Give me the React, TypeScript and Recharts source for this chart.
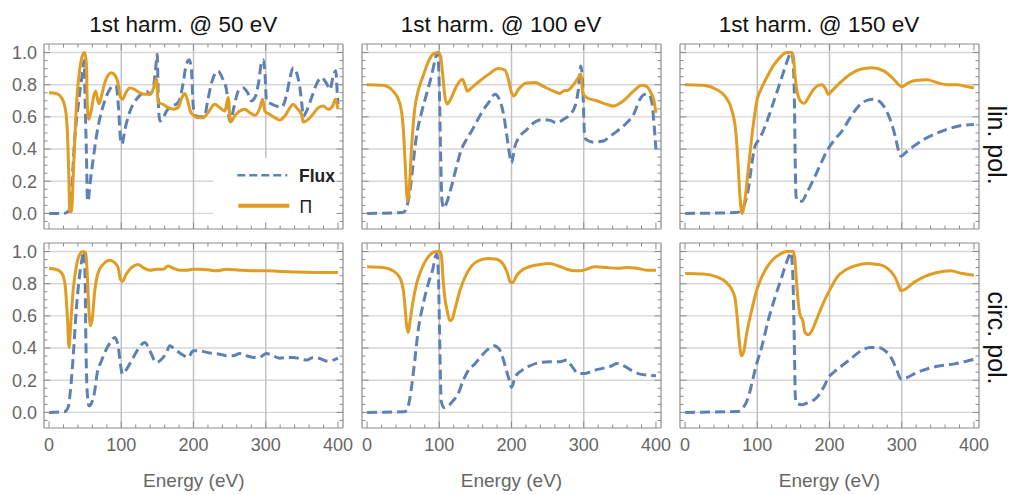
import { LineChart, Line, XAxis, YAxis, CartesianGrid, ReferenceArea } from 'recharts'

type Pt = [number, number]

// linear polarisation, 1st harmonic @ 50 eV
const lin50Flux: Pt[] = [
  [0, 0], [20, 0], [26, 0.01], [29, 0.03], [31, 0.12], [33, 0.28], [35.5, 0.46], [40, 0.66], [44, 0.8],
  [47, 0.9], [48.5, 0.95], [50, 0.67], [51.8, 0.36], [53, 0.1], [54, 0.075], [56.4, 0.17], [61, 0.335],
  [65.6, 0.48], [70, 0.585], [74.8, 0.667], [79.5, 0.73], [84, 0.77], [88.7, 0.795], [93, 0.79], [96, 0.67],
  [99, 0.46], [100.8, 0.43], [105, 0.52], [109.5, 0.6], [116.5, 0.68], [123, 0.72], [130, 0.75], [135, 0.76],
  [139.5, 0.74], [144, 0.77], [148, 0.92], [149.7, 0.99], [151.5, 0.67], [153.4, 0.575], [158, 0.595],
  [162.6, 0.636], [169.5, 0.667], [176.5, 0.68], [181, 0.71], [185.7, 0.81], [190, 0.925], [194, 0.955],
  [197, 0.9], [199.6, 0.67], [202, 0.61], [208, 0.6], [215, 0.6], [220, 0.71], [227, 0.84], [234, 0.885],
  [240, 0.84], [246, 0.76], [249, 0.6], [251, 0.57], [256, 0.66], [262, 0.76], [269, 0.78], [275, 0.75],
  [280, 0.7], [285, 0.72], [290, 0.81], [294, 0.935], [296.5, 0.955], [299, 0.87], [301, 0.7], [308, 0.68],
  [315, 0.667], [322, 0.66], [329, 0.74], [333.5, 0.84], [338, 0.905], [342.7, 0.875], [347, 0.79],
  [350, 0.68], [352, 0.605], [356.6, 0.636], [363.5, 0.72], [370, 0.8], [377, 0.844], [384, 0.81],
  [389, 0.77], [393.5, 0.855], [397, 0.886], [399, 0.75], [400, 0.68],
]
const lin50Pi: Pt[] = [
  [0, 0.75], [10, 0.745], [17, 0.72], [21.8, 0.667], [25, 0.54], [27.3, 0.25], [28.7, 0.01], [31, 0.01],
  [33.3, 0.21], [35.6, 0.46], [38.8, 0.73], [42.5, 0.895], [47, 0.99], [49.4, 1.0], [51.8, 0.92], [53, 0.67],
  [55, 0.585], [58.7, 0.647], [62.4, 0.74], [64.7, 0.76], [66.6, 0.72], [69.3, 0.68], [72.6, 0.73], [77, 0.81],
  [81.8, 0.86], [86.4, 0.875], [91, 0.86], [95.6, 0.81], [99, 0.72], [101.7, 0.71], [106.3, 0.75],
  [111.8, 0.78], [118.7, 0.77], [125.7, 0.75], [132.6, 0.74], [139.5, 0.74], [145.5, 0.79], [148.8, 0.835],
  [151, 0.69], [158, 0.678], [165, 0.657], [172, 0.647], [179, 0.66], [184, 0.72], [188, 0.745], [192, 0.7],
  [196, 0.63], [200, 0.61], [206.5, 0.595], [213.4, 0.595], [220, 0.626], [229.5, 0.678], [236.5, 0.657],
  [243.4, 0.636], [248, 0.72], [251.3, 0.568], [257, 0.605], [264, 0.636], [271, 0.647], [278, 0.626],
  [285, 0.61], [292, 0.657], [295.6, 0.71], [298.8, 0.636], [305.8, 0.615], [312.7, 0.595], [319.6, 0.58],
  [326.5, 0.605], [333.5, 0.657], [338, 0.678], [342.7, 0.657], [349.6, 0.615], [352, 0.568], [359, 0.584],
  [366, 0.62], [372.7, 0.657], [379.7, 0.667], [386.6, 0.647], [392.6, 0.667], [396.7, 0.71], [400, 0.647],
]

// linear polarisation, 1st harmonic @ 100 eV
const lin100Flux: Pt[] = [
  [0, 0], [50, 0.005], [54.5, 0.035], [59, 0.127], [63.8, 0.31], [68.4, 0.48], [75.4, 0.626], [82.3, 0.74],
  [89.2, 0.855], [93.9, 0.948], [97.5, 1.0], [99.9, 0.81], [101.7, 0.4], [103.6, 0.085], [106.3, 0.033],
  [110, 0.064], [117, 0.17], [124, 0.293], [130.8, 0.4], [137.8, 0.46], [147, 0.53], [158.6, 0.626],
  [170, 0.7], [177, 0.74], [183, 0.71], [188.6, 0.626], [193, 0.5], [197, 0.376], [200, 0.314],
  [204.8, 0.418], [211.7, 0.48], [221, 0.52], [230, 0.56], [239.5, 0.58], [251, 0.58], [262.6, 0.563],
  [271.8, 0.584], [281, 0.615], [288, 0.667], [292.6, 0.77], [296, 0.917], [298.7, 0.79], [301, 0.5],
  [303, 0.46], [313.5, 0.443], [327, 0.45], [336.6, 0.48], [345.8, 0.51], [359.7, 0.563], [369, 0.615],
  [378, 0.71], [385, 0.74], [389.7, 0.74], [394.4, 0.69], [397.6, 0.54], [400, 0.4],
]
const lin100Pi: Pt[] = [
  [0, 0.8], [22, 0.796], [36, 0.76], [45, 0.69], [50, 0.54], [53, 0.29], [56, 0.075], [58, 0.127],
  [61.5, 0.4], [66, 0.65], [70.7, 0.76], [77.7, 0.855], [84.6, 0.94], [91.5, 0.99], [98.5, 1.0],
  [101.7, 0.98], [104.5, 0.875], [107.7, 0.73], [111, 0.68], [114.7, 0.7], [121.6, 0.77], [128.5, 0.823],
  [132, 0.834], [135.5, 0.8], [138.7, 0.76], [144.7, 0.78], [156, 0.823], [170, 0.87], [181.7, 0.9],
  [191, 0.89], [195.6, 0.834], [200, 0.75], [203.4, 0.73], [209.4, 0.77], [221, 0.81], [232.5, 0.813],
  [244, 0.79], [258, 0.76], [267, 0.746], [271.8, 0.76], [278.8, 0.767], [285.7, 0.8], [292.6, 0.844],
  [296, 0.865], [298.7, 0.75], [304, 0.72], [318, 0.7], [332, 0.678], [341, 0.667], [355, 0.7], [369, 0.76],
  [380.5, 0.796], [387.4, 0.788], [393, 0.75], [396.7, 0.71], [400, 0.626],
]

// linear polarisation, 1st harmonic @ 150 eV
const lin150Flux: Pt[] = [
  [0, 0], [71.3, 0.005], [78, 0.023], [82.9, 0.064], [87.5, 0.148], [92, 0.293], [96.8, 0.418], [101, 0.45],
  [108, 0.51], [117.6, 0.626], [126.9, 0.75], [133.8, 0.844], [140.7, 0.938], [145.4, 0.99], [147.7, 1.0],
  [150, 0.917], [151.4, 0.71], [152.3, 0.4], [153.7, 0.106], [156.9, 0.075], [161.6, 0.075], [168.5, 0.127],
  [177.8, 0.21], [187, 0.3], [196.3, 0.387], [205.6, 0.45], [217, 0.51], [228.7, 0.595], [240.3, 0.667],
  [251.9, 0.703], [261, 0.71], [268, 0.7], [275, 0.667], [284, 0.584], [291, 0.48], [295.8, 0.387],
  [299, 0.355], [305, 0.376], [316.7, 0.418], [330.6, 0.46], [349, 0.5], [367.6, 0.53], [383.8, 0.547],
  [400, 0.553],
]
const lin150Pi: Pt[] = [
  [0, 0.8], [25, 0.796], [43.5, 0.77], [55, 0.73], [64.4, 0.647], [70.4, 0.5], [73.6, 0.293], [76, 0.106],
  [79, 0.0], [82.9, 0.085], [87.5, 0.27], [92, 0.46], [96.8, 0.626], [100, 0.71], [106, 0.78], [113, 0.844],
  [122, 0.917], [131.5, 0.97], [140.7, 1.0], [147.7, 1.0], [150, 0.97], [152.3, 0.855], [154.6, 0.77],
  [158.3, 0.71], [161.6, 0.69], [164.8, 0.684], [170.8, 0.72], [177.8, 0.77], [184.7, 0.796], [189.4, 0.8],
  [194, 0.78], [198.6, 0.74], [203, 0.76], [214.8, 0.813], [228.7, 0.865], [242.6, 0.896], [258.8, 0.906],
  [275, 0.886], [288.9, 0.834], [295.8, 0.8], [300.5, 0.788], [309.7, 0.813], [321, 0.827], [335, 0.83],
  [349, 0.813], [363, 0.8], [376.9, 0.8], [388.4, 0.79], [400, 0.78],
]

// circular polarisation, 1st harmonic @ 50 eV
const circ50Flux: Pt[] = [
  [0, 0], [21.7, 0.004], [26.3, 0.03], [29.6, 0.135], [33.3, 0.34], [37.9, 0.65], [42.5, 0.86], [46, 0.963],
  [48, 1.0], [50, 0.82], [50.8, 0.507], [52.7, 0.135], [55.4, 0.04], [60, 0.072], [63.3, 0.135], [66.5, 0.24],
  [72.5, 0.32], [79.4, 0.393], [86.4, 0.445], [91, 0.466], [95.6, 0.414], [98.8, 0.3], [101.6, 0.238],
  [106, 0.26], [114, 0.32], [123.3, 0.393], [132.6, 0.435], [139.5, 0.383], [148.7, 0.31], [155.7, 0.33],
  [162.6, 0.373], [167, 0.414], [174, 0.393], [183.4, 0.362], [192.6, 0.342], [199.5, 0.383], [208.8, 0.383],
  [218, 0.373], [227, 0.366], [236.5, 0.362], [245.7, 0.352], [255, 0.352], [264, 0.366], [273.4, 0.352],
  [282.7, 0.342], [292, 0.345], [301, 0.366], [310, 0.352], [319.6, 0.337], [328.9, 0.342], [338, 0.342],
  [347, 0.335], [356.6, 0.325], [365.8, 0.342], [375, 0.335], [384, 0.32], [393.5, 0.325], [400, 0.337],
]
const circ50Pi: Pt[] = [
  [0, 0.896], [12.5, 0.884], [19.4, 0.85], [23, 0.756], [25.4, 0.59], [27.7, 0.404], [30, 0.55], [33.3, 0.756],
  [37.9, 0.91], [42.5, 0.983], [47, 1.0], [50.8, 0.99], [52.7, 0.88], [55, 0.652], [57.3, 0.538], [60, 0.59],
  [63.3, 0.756], [68, 0.87], [74.8, 0.92], [84, 0.946], [91, 0.93], [95.6, 0.9], [98.8, 0.828],
  [101.6, 0.814], [107, 0.86], [114, 0.9], [123.3, 0.92], [130.3, 0.9], [139.5, 0.884], [148.7, 0.89],
  [158, 0.89], [165, 0.91], [171.8, 0.896], [181, 0.884], [190, 0.884], [199.5, 0.89], [208.8, 0.89],
  [220, 0.886], [232, 0.88], [245.7, 0.89], [264, 0.884], [282.7, 0.88], [301, 0.88], [324, 0.876],
  [347, 0.872], [370, 0.87], [400, 0.87],
]

// circular polarisation, 1st harmonic @ 100 eV
const circ100Flux: Pt[] = [
  [0, 0], [52, 0.004], [57, 0.04], [61.5, 0.155], [66, 0.32], [70.7, 0.507], [77.7, 0.673], [84.6, 0.797],
  [91.5, 0.9], [95, 0.973], [97, 0.983], [99, 0.818], [100.8, 0.4], [102.6, 0.072], [106.3, 0.03],
  [112.3, 0.04], [119, 0.072], [126, 0.114], [133, 0.197], [140, 0.26], [149, 0.3], [158.6, 0.352],
  [167.8, 0.393], [175.7, 0.414], [183, 0.393], [188.6, 0.33], [193, 0.26], [197.9, 0.186], [200, 0.155],
  [204.8, 0.217], [214, 0.26], [225.6, 0.29], [239.5, 0.31], [253, 0.315], [267, 0.315], [276.5, 0.325],
  [283, 0.29], [292.6, 0.242], [302, 0.242], [313.5, 0.26], [327, 0.275], [339, 0.29], [345.8, 0.304],
  [355, 0.29], [366.6, 0.26], [378, 0.238], [392, 0.23], [400, 0.228],
]
const circ100Pi: Pt[] = [
  [0, 0.905], [22, 0.9], [36, 0.88], [45, 0.84], [50, 0.766], [52.7, 0.652], [54.5, 0.55], [57, 0.497],
  [59, 0.55], [63, 0.673], [68.4, 0.797], [75.4, 0.89], [82.3, 0.952], [89.2, 0.988], [96, 1.0], [100.8, 1.0],
  [103, 0.973], [105.4, 0.818], [107.7, 0.714], [111, 0.63], [114.7, 0.57], [118, 0.58], [121.6, 0.64],
  [128.5, 0.756], [135.5, 0.84], [144.7, 0.91], [156, 0.946], [167.8, 0.957], [179.4, 0.952], [188.6, 0.92],
  [194, 0.87], [198.8, 0.807], [201.6, 0.807], [207, 0.85], [216.4, 0.89], [228, 0.91], [239.5, 0.92],
  [253, 0.925], [265, 0.91], [276.5, 0.89], [288, 0.88], [295, 0.88], [304, 0.89], [315.8, 0.905],
  [332, 0.9], [345.8, 0.896], [359.7, 0.9], [373.5, 0.896], [387.4, 0.884], [400, 0.884],
]

// circular polarisation, 1st harmonic @ 150 eV
const circ150Flux: Pt[] = [
  [0, 0], [73.6, 0.006], [80.5, 0.03], [87.5, 0.093], [94.4, 0.217], [99, 0.3], [106, 0.404], [115, 0.57],
  [124.5, 0.714], [133.8, 0.84], [143, 0.963], [146.3, 0.994], [149, 0.88], [151, 0.507], [152.8, 0.093],
  [154.6, 0.056], [161.6, 0.048], [170.8, 0.062], [182.4, 0.093], [191.7, 0.155], [198.6, 0.217],
  [205.6, 0.248], [217, 0.29], [228.7, 0.33], [242.6, 0.38], [256.5, 0.404], [268, 0.404], [277.3, 0.383],
  [286.6, 0.33], [293.5, 0.26], [299, 0.207], [307.4, 0.217], [321, 0.248], [335, 0.27], [353.7, 0.29],
  [372, 0.3], [390.7, 0.32], [400, 0.33],
]
const circ150Pi: Pt[] = [
  [0, 0.863], [25, 0.86], [43.5, 0.843], [57.4, 0.807], [64.4, 0.766], [69, 0.714], [72.2, 0.59], [75, 0.445],
  [78.2, 0.352], [81.5, 0.383], [85.2, 0.487], [92, 0.63], [99, 0.756], [106, 0.84], [113, 0.9], [122, 0.952],
  [131.5, 0.983], [140.7, 1.0], [150, 1.0], [152.3, 0.942], [154.6, 0.797], [157, 0.673], [159, 0.61],
  [163, 0.57], [166, 0.497], [170.8, 0.482], [175.5, 0.507], [182.4, 0.58], [191.7, 0.683], [201, 0.766],
  [210, 0.838], [224, 0.89], [238, 0.915], [251.8, 0.925], [265.7, 0.92], [275, 0.91], [284, 0.88],
  [291, 0.838], [295.8, 0.787], [299, 0.756], [305, 0.766], [316.7, 0.807], [330.6, 0.843], [349, 0.87],
  [367.6, 0.88], [383.8, 0.863], [400, 0.853],
]

const columnTitles = ['1st harm. @ 50 eV', '1st harm. @ 100 eV', '1st harm. @ 150 eV']
const rowLabels = ['lin. pol.', 'circ. pol.']
const xAxisLabel = 'Energy (eV)'
const legendLabels = ['Flux', 'Π']

const xMajorTicks = [0, 100, 200, 300, 400]
const xTicks = [0, 20, 40, 60, 80, 100, 120, 140, 160, 180, 200, 220, 240, 260, 280, 300, 320, 340, 360, 380, 400]
const yMajorTicks = [0, 0.2, 0.4, 0.6, 0.8, 1.0]
const yTicks = [-0.05, 0, 0.05, 0.1, 0.15, 0.2, 0.25, 0.3, 0.35, 0.4, 0.45, 0.5, 0.55, 0.6, 0.65, 0.7, 0.75, 0.8, 0.85, 0.9, 0.95, 1.0]
const xGridValues = [100, 200, 300]

const panels = [
  [{ flux: lin50Flux, pi: lin50Pi }, { flux: lin100Flux, pi: lin100Pi }, { flux: lin150Flux, pi: lin150Pi }],
  [{ flux: circ50Flux, pi: circ50Pi }, { flux: circ100Flux, pi: circ100Pi }, { flux: circ150Flux, pi: circ150Pi }],
]

const X_DOMAIN: [number, number] = [-7, 407]
const Y_DOMAIN: [number, number] = [-0.097, 1.053]

const BLUE = '#5E81B5'
const ORANGE = '#E19C24'
const FRAME = '#8c8c8c'
const TICK_TEXT = '#666666'
const FONT = '"Liberation Sans", Arial, Helvetica, sans-serif'

const PW = 299
const PH = 185
const colLeft = [44.3, 362, 680]
const rowTop = [44.3, 243]
// outer margins; each axis takes 1px of its own, so the plot box starts at ML+1 / MT+1
const ML = 43
const MR = 13
const MT = 11
const MB = 39

const toRows = (pts: Pt[]) => pts.map(([e, v]) => ({ e, v }))
const isMajorX = (v: number) => xMajorTicks.includes(v)
const isMajorY = (v: number) => yMajorTicks.some((t) => Math.abs(t - v) < 1e-9)

const bottomTick = (withLabel: boolean) => (props: any) => {
  const { x, y, payload } = props
  const major = isMajorX(payload.value)
  return (
    <g>
      <line x1={x} x2={x} y1={y} y2={y - (major ? 6.5 : 3.5)} stroke={FRAME} strokeWidth={1} />
      {withLabel && major && (
        <text x={x} y={y + 22.5} textAnchor="middle" fontSize={18} fill={TICK_TEXT} fontFamily={FONT}>
          {payload.value}
        </text>
      )}
    </g>
  )
}

const topTick = (props: any) => {
  const { x, y, payload } = props
  const major = isMajorX(payload.value)
  return <line x1={x} x2={x} y1={y} y2={y + (major ? 6.5 : 3.5)} stroke={FRAME} strokeWidth={1} />
}

const leftTick = (withLabel: boolean) => (props: any) => {
  const { x, y, payload } = props
  const major = isMajorY(payload.value)
  return (
    <g>
      <line x1={x} x2={x + (major ? 6.5 : 3.5)} y1={y} y2={y} stroke={FRAME} strokeWidth={1} />
      {withLabel && major && (
        <text x={x - 7} y={y + 6.3} textAnchor="end" fontSize={18} fill={TICK_TEXT} fontFamily={FONT}>
          {Number(payload.value).toFixed(1)}
        </text>
      )}
    </g>
  )
}

const rightTick = (props: any) => {
  const { x, y, payload } = props
  const major = isMajorY(payload.value)
  return <line x1={x} x2={x - (major ? 6.5 : 3.5)} y1={y} y2={y} stroke={FRAME} strokeWidth={1} />
}

function Panel({ row, col }: { row: number; col: number }) {
  const { flux, pi } = panels[row][col]
  const showLegend = row === 0 && col === 0
  return (
    <div style={{ position: 'absolute', left: colLeft[col] - ML - 1, top: rowTop[row] - MT - 1 }}>
      <LineChart width={PW + ML + MR + 2} height={PH + MT + MB + 2} margin={{ top: MT, right: MR, bottom: MB, left: ML }}>
        <CartesianGrid vertical={false} horizontalValues={yMajorTicks} stroke="#d6d6d6" strokeWidth={1.4} />
        <CartesianGrid horizontal={false} verticalValues={xGridValues} stroke="#c2c2c2" strokeWidth={1.5} />
        {showLegend && (
          <ReferenceArea x1={227} x2={407} y1={-0.097} y2={0.346} fill="#ffffff" fillOpacity={1} stroke="none" ifOverflow="hidden" />
        )}
        <Line data={toRows(flux)} dataKey="v" type="monotone" stroke={BLUE} strokeWidth={3} strokeDasharray="10 5" dot={false} isAnimationActive={false} />
        <Line data={toRows(pi)} dataKey="v" type="monotone" stroke={ORANGE} strokeWidth={3} dot={false} isAnimationActive={false} />
        <XAxis dataKey="e" type="number" domain={X_DOMAIN} allowDataOverflow ticks={xTicks} interval={0} height={1}
          tickSize={0} tickMargin={0} tickLine={false} axisLine={{ stroke: FRAME, strokeWidth: 1.2 }} tick={bottomTick(row === 1)} />
        <XAxis xAxisId="top" orientation="top" dataKey="e" type="number" domain={X_DOMAIN} allowDataOverflow ticks={xTicks} interval={0} height={1}
          tickSize={0} tickMargin={0} tickLine={false} axisLine={{ stroke: FRAME, strokeWidth: 1.2 }} tick={topTick} />
        <YAxis type="number" domain={Y_DOMAIN} allowDataOverflow ticks={yTicks} interval={0} width={1}
          tickSize={0} tickMargin={0} tickLine={false} axisLine={{ stroke: FRAME, strokeWidth: 1.2 }} tick={leftTick(col === 0)} />
        <YAxis yAxisId="right" orientation="right" type="number" domain={Y_DOMAIN} allowDataOverflow ticks={yTicks} interval={0} width={1}
          tickSize={0} tickMargin={0} tickLine={false} axisLine={{ stroke: FRAME, strokeWidth: 1.2 }} tick={rightTick} />
      </LineChart>
    </div>
  )
}

export default function App() {
  return (
    <div style={{ position: 'absolute', left: 0, top: 0, width: 1012, height: 495, background: '#ffffff', fontFamily: FONT, overflow: 'hidden' }}>
      {[0, 1].map((r) => [0, 1, 2].map((c) => <Panel key={`${r}-${c}`} row={r} col={c} />))}
      <svg width={1012} height={495} style={{ position: 'absolute', left: 0, top: 0, pointerEvents: 'none' }}>
        {columnTitles.map((t, c) => (
          <text key={t} x={colLeft[c] + PW / 2 - 10.5} y={31.7} textAnchor="middle" fontSize={22.5} fill="#111" fontFamily={FONT}>
            {t}
          </text>
        ))}
        {[0, 1, 2].map((c) => (
          <text key={c} x={colLeft[c] + PW / 2} y={486.7} textAnchor="middle" fontSize={19} fill={TICK_TEXT} fontFamily={FONT}>
            {xAxisLabel}
          </text>
        ))}
        <text x={988} y={145} transform="rotate(90 988 145)" textAnchor="middle" fontSize={25} fill="#111" fontFamily={FONT}>
          {rowLabels[0]}
        </text>
        <text x={988} y={338} transform="rotate(90 988 338)" textAnchor="middle" fontSize={25} fill="#111" fontFamily={FONT}>
          {rowLabels[1]}
        </text>
        {/* legend in the lower right of the first panel */}
        <line x1={237.3} x2={287.3} y1={175.3} y2={175.3} stroke={BLUE} strokeWidth={2.5} strokeDasharray="8 4" />
        <text x={299} y={181.7} fontSize={17.5} fontWeight="bold" fill="#222" fontFamily={FONT}>{legendLabels[0]}</text>
        <line x1={238.3} x2={289.3} y1={205.7} y2={205.7} stroke={ORANGE} strokeWidth={4} />
        <text x={299.5} y={213.3} fontSize={17.5} fill="#222" fontFamily={FONT}>{legendLabels[1]}</text>
      </svg>
    </div>
  )
}
